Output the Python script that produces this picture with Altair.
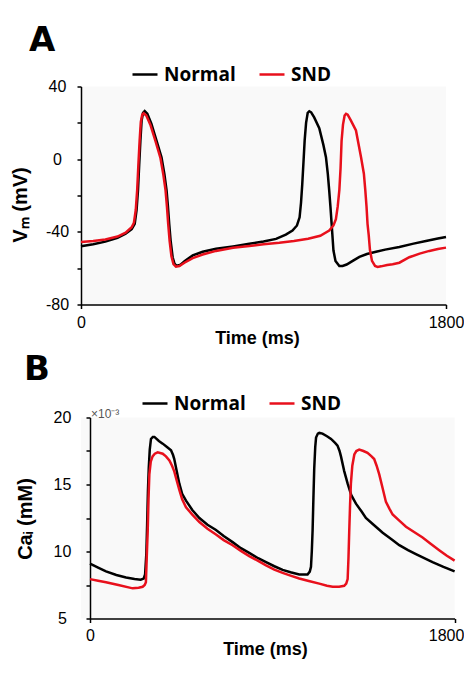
import altair as alt
import pandas as pd

# ---------------- data ----------------
series_names = ["Normal", "SND"]
series_colors = ["#000000", "#e8101c"]

# Panel A: membrane potential Vm (mV) vs time (ms)
tA_normal = [0, 60, 120, 180, 220, 250, 265, 274, 281, 287, 293, 299, 306, 314, 327, 347, 372, 397, 411, 422,
             429, 435, 442, 452, 461, 471, 488, 512, 551, 600, 666, 750, 830, 900, 962, 1010, 1043, 1065, 1078, 1085,
             1091, 1097, 1103, 1110, 1118, 1126, 1135, 1150, 1175, 1195, 1208, 1217, 1224, 1230, 1236, 1245, 1255, 1274, 1290, 1310,
             1340, 1373, 1410, 1455, 1500, 1570, 1640, 1701, 1760, 1800]
vA_normal = [-47.9, -46.8, -45.4, -43.3, -41.0, -38.5, -35.6, -28, -17.2, -3, 10.3, 21.3, 25.5, 26.5, 25, 19.5, 10.3, 1.1, -8, -17.2,
             -26.4, -35.6, -44.8, -54, -57.5, -58.7, -58.3, -56, -53, -51, -49.3, -48, -46.6, -45.3, -43.9, -41.5, -39.3, -36.5, -32, -24,
             -14, -2, 10.3, 20, 25.5, 26.4, 25.8, 23, 17, 8, 1.1, -8, -17.2, -26, -35.6, -50.3, -56, -58.8, -58.8, -58,
             -56, -53.8, -52.2, -51, -49.8, -48.3, -46.5, -45, -43.7, -42.8]
tA_snd = [0, 60, 120, 180, 220, 250, 261, 270, 277, 283, 289, 295, 302, 309, 322, 342, 367, 392, 406, 417,
          424, 430, 437, 446, 456, 468, 485, 510, 551, 600, 666, 750, 830, 900, 978, 1050, 1120, 1180, 1224, 1245,
          1257, 1266, 1274, 1280, 1285, 1292, 1300, 1307, 1315, 1330, 1356, 1381, 1395, 1402, 1408, 1413, 1419, 1425, 1435, 1450,
          1463, 1480, 1510, 1537, 1570, 1619, 1670, 1718, 1760, 1800]
vA_snd = [-45.6, -45, -44.2, -42.6, -40.5, -37.5, -35, -28, -17, -3, 10, 20.5, 24.5, 25.3, 24, 19, 10, 0.5, -8.5, -17.2,
          -26.4, -35.6, -45, -53.5, -57.8, -59.2, -58.8, -57, -54.5, -52.5, -50.5, -48.8, -47.8, -46.8, -46, -45, -43.8, -42.2, -39.3, -36.5,
          -33, -26, -17, -5, 10, 19, 24, 25, 24.5, 21.5, 15.8, 1, -8, -17, -26, -35.6, -42, -50, -56, -58.8,
          -59.3, -59, -58.3, -57.8, -57, -54, -52, -50.5, -49.5, -48.7]

# Panel B: intracellular Ca (x 10^-3 mM) vs time (ms)
tB_normal = [0, 40, 79, 130, 178, 220, 250, 265, 272, 278, 282, 286, 290, 295, 301, 310, 318, 340, 359, 380,
             400, 410, 416, 428, 441, 455, 474, 505, 540, 580, 622, 660, 704, 745, 786, 830, 869, 910, 951, 990,
             1033, 1074, 1085, 1091, 1095, 1099, 1103, 1107, 1112, 1116, 1125, 1132, 1148, 1170, 1190, 1210, 1222, 1232, 1239, 1255,
             1272, 1290, 1313, 1340, 1362, 1400, 1445, 1490, 1527, 1570, 1609, 1650, 1691, 1745, 1800]
cB_normal = [9.09, 8.8, 8.52, 8.25, 8.06, 7.95, 7.9, 7.98, 8.3, 9.8, 12, 14.5, 16.2, 17.6, 18.4, 18.55, 18.55, 18.25, 18.05, 17.8,
             17.55, 17.2, 16.9, 16, 15.06, 14.3, 13.8, 13.1, 12.5, 12.0, 11.6, 11.15, 10.7, 10.25, 9.9, 9.5, 9.2, 8.9, 8.63, 8.45,
             8.29, 8.29, 8.5, 8.86, 10, 11.6, 14, 16.2, 17.8, 18.5, 18.8, 18.85, 18.8, 18.6, 18.4, 18.1, 17.9, 17.5, 17.1, 16,
             15.06, 14.2, 13.57, 13.0, 12.5, 12.0, 11.4, 10.9, 10.47, 10.1, 9.8, 9.5, 9.2, 8.85, 8.52]
tB_snd = [0, 40, 79, 140, 211, 240, 260, 270, 276, 280, 285, 289, 293, 300, 309, 320, 334, 359, 375, 392,
          405, 416, 428, 441, 455, 474, 505, 540, 580, 622, 660, 704, 745, 786, 830, 869, 910, 951, 990, 1033,
          1080, 1132, 1170, 1198, 1230, 1255, 1265, 1272, 1276, 1280, 1284, 1288, 1295, 1305, 1315, 1329, 1350, 1370, 1390, 1403,
          1415, 1428, 1445, 1461, 1478, 1494, 1527, 1560, 1600, 1642, 1680, 1724, 1760, 1800]
cB_snd = [7.94, 7.82, 7.71, 7.5, 7.25, 7.3, 7.37, 7.5, 7.71, 9.5, 11.6, 14, 15.75, 16.7, 17.1, 17.3, 17.4, 17.3, 17.1, 16.8,
          16.4, 15.98, 15.3, 14.6, 13.9, 13.3, 12.75, 12.2, 11.7, 11.27, 10.85, 10.47, 10.05, 9.66, 9.3, 8.97, 8.65, 8.4, 8.2, 7.99,
          7.8, 7.6, 7.45, 7.37, 7.37, 7.44, 7.6, 7.94, 9.5, 11.6, 13.5, 15.06, 16.4, 17.24, 17.5, 17.6, 17.5, 17.36, 17.1, 16.9,
          16.4, 15.75, 14.7, 13.7, 13.2, 12.76, 12.3, 11.85, 11.45, 11.04, 10.6, 10.1, 9.7, 9.32]

x_ticks = [0, 1800]
yA_ticks = [-80, -60, -40, -20, 0, 20, 40]
yB_ticks = [5, 7.5, 10, 12.5, 15, 17.5, 20]

dfA = pd.DataFrame({
    "t": tA_normal + tA_snd,
    "v": vA_normal + vA_snd,
    "series": ["Normal"] * len(tA_normal) + ["SND"] * len(tA_snd),
})
dfB = pd.DataFrame({
    "t": tB_normal + tB_snd,
    "v": cB_normal + cB_snd,
    "series": ["Normal"] * len(tB_normal) + ["SND"] * len(tB_snd),
})

# ---------------- styling ----------------
TICK_FONT = "Liberation Sans"
TITLE_FONT = "Liberation Sans"
LEG_FONT = "Open Sans"

common_axis = dict(
    grid=False, domainColor="black", domainWidth=1.5, tickColor="black", tickWidth=1.5, tickSize=4,
    labelFont=TICK_FONT, labelFontSize=16, labelColor="black",
    titleFont=TITLE_FONT, titleFontWeight="bold", titleColor="black",
)

legend_common = dict(
    orient="none", direction="horizontal", title=None, symbolType="stroke", symbolSize=625,
    symbolStrokeWidth=2.5, labelFont=LEG_FONT, labelFontWeight="bold", labelFontSize=19,
    labelColor="black", labelOffset=5, columnPadding=18, padding=0,
)

WA, HA = 365, 218
B_SHIFT = 9
WB, HB = 373.6, 201


def panel(df, x_axis, x_scale, y_axis, y_dom, legend, width, height, letter, letter_xy, extra=None):
    lines = alt.Chart(df).mark_line(strokeWidth=2.5).encode(
        x=alt.X("t:Q", scale=x_scale, axis=x_axis),
        y=alt.Y("v:Q", scale=alt.Scale(domain=y_dom, nice=False, zero=False), axis=y_axis),
        color=alt.Color("series:N", scale=alt.Scale(domain=series_names, range=series_colors), legend=legend),
    )
    lab = alt.Chart(pd.DataFrame({"lab": [letter]})).mark_text(
        font="DejaVu Sans", fontWeight="bold", fontSize=34, align="left", baseline="top", color="black"
    ).encode(x=alt.value(letter_xy[0]), y=alt.value(letter_xy[1]), text="lab:N")
    layers = [lines, lab]
    if extra is not None:
        layers.append(extra)
    return alt.layer(*layers).properties(width=width, height=height)


xaxisA = alt.Axis(values=x_ticks, title="Time (ms)", titleFontSize=18, titleX=176, titleY=25,
                  titleBaseline="top", labelFlush=False, labelPadding=6, format="d", **common_axis)
yaxisA = alt.Axis(values=yA_ticks, labelExpr="datum.value % 40 == 0 ? '' + datum.value : ''",
                  title="Vₘ (mV)", titleFontSize=20, titleAngle=270, titleX=-55, titleY=118,
                  titleBaseline="alphabetic", labelAlign="center", labelBaseline="middle", labelPadding=20,
                  **common_axis)
panelA = panel(
    dfA, xaxisA, alt.Scale(domain=[0, 1800], nice=False, zero=False), yaxisA, [-80, 40],
    alt.Legend(legendX=50, legendY=-26, **legend_common), WA, HA, "A", (-52, -63),
)

xaxisB = alt.Axis(values=x_ticks, title="Time (ms)", titleFontSize=18, titleX=184, titleY=22,
                  titleBaseline="top", labelFlush=False, labelPadding=5, format="d",
                  labelOffset={"condition": {"test": "datum.value == 1800", "value": -8.5}, "value": 0},
                  **common_axis)
yaxisB = alt.Axis(values=yB_ticks, labelExpr="datum.value % 5 == 0 ? '' + datum.value : ''",
                  title="Caᵢ (mM)", titleFontSize=20, titleAngle=270, titleX=-59, titleY=101,
                  titleBaseline="alphabetic", labelAlign="center", labelBaseline="middle", labelPadding=24,
                  offset=-B_SHIFT, **common_axis)
exp_note = alt.Chart(pd.DataFrame({"note": ["×10⁻³"]})).mark_text(
    font=TICK_FONT, fontSize=12, color="#555555", align="left", baseline="alphabetic"
).encode(x=alt.value(B_SHIFT + 1), y=alt.value(0), text="note:N")
panelB = panel(
    dfB, xaxisB, alt.Scale(domain=[0, 1800], range=[B_SHIFT, WB], nice=False, zero=False), yaxisB, [5, 20],
    alt.Legend(legendX=60, legendY=-28, **legend_common), WB, HB, "B", (-57, -65), extra=exp_note,
)

chart = (
    alt.vconcat(panelA, panelB, spacing=5)
    .resolve_scale(color="independent", x="independent", y="independent")
    .resolve_legend(color="independent")
    .properties(padding={"left": 2, "top": 15.5, "right": 0, "bottom": 0})
    .configure_view(fill="#f9f9f9", strokeWidth=0)
)

chart.save("out.html", embed_options={"renderer": "svg", "actions": False})
